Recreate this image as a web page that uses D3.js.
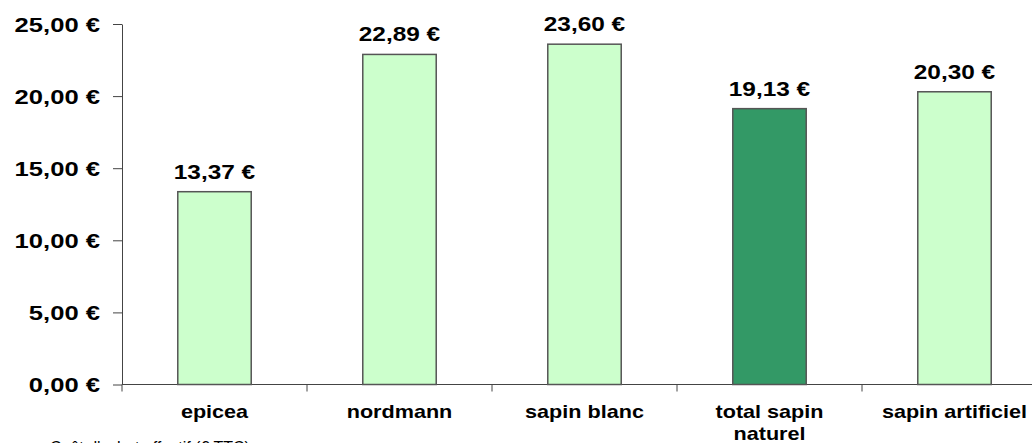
<!DOCTYPE html>
<html>
<head>
<meta charset="utf-8">
<script src="https://cdn.jsdelivr.net/npm/d3@7"></script>
<style>
  body { margin: 0; background: #fff; }
  svg { display: block; font-family: "Liberation Sans", Arial, sans-serif; }
</style>
</head>
<body>
<figure id="chart" style="margin:0"></figure>
<script>
const categories = ['epicea', 'nordmann', 'sapin blanc', 'total sapin naturel', 'sapin artificiel'];
const categoryLines = [['epicea'], ['nordmann'], ['sapin blanc'], ['total sapin', 'naturel'], ['sapin artificiel']];
const prices = [13.37, 22.89, 23.60, 19.13, 20.30];
const yTicks = [0, 5, 10, 15, 20, 25];
const highlighted = 'total sapin naturel';
const note = "Coût d'achat effectif (€ TTC)";

const width = 1032;
const height = 443;
const marginLeft = 122;
const plotTop = 24;
const plotBottom = 384.5;

const euro = d3.formatLocale({ decimal: ',', thousands: ' ', grouping: [3], currency: ['', ' €'] }).format('$.2f');

const svg = d3.select('figure#chart')
  .append('svg')
  .attr('width', width)
  .attr('height', height);

const x = d3.scaleBand()
  .domain(categories)
  .range([marginLeft, marginLeft + 925])
  .paddingInner(0.603)
  .paddingOuter(0.3015);

const y = d3.scaleLinear()
  .domain([0, 25])
  .range([plotBottom, plotTop]);

// y axis
const yAxis = svg.append('g')
  .attr('transform', 'translate(' + marginLeft + ',0)')
  .call(d3.axisLeft(y).tickValues(yTicks).tickSize(9).tickSizeOuter(0).tickFormat(euro));
yAxis.select('.domain').attr('stroke', '#444');
yAxis.selectAll('line').attr('stroke', '#444');
yAxis.selectAll('text')
  .attr('x', -22 / 1.28)
  .attr('dy', '0.35em')
  .attr('transform', 'scale(1.28,1)')
  .style('font-size', '20px')
  .style('font-weight', 'bold')
  .style('font-family', '"Liberation Sans", Arial, sans-serif')
  .attr('fill', '#000');

// x axis line + ticks at band boundaries
const xAxis = svg.append('g');
xAxis.append('line')
  .attr('x1', marginLeft).attr('x2', width)
  .attr('y1', y(0)).attr('y2', y(0))
  .attr('stroke', '#444');
xAxis.selectAll('.xtick')
  .data(d3.range(categories.length + 1))
  .enter()
  .append('line')
  .attr('x1', i => x.range()[0] + i * x.step())
  .attr('x2', i => x.range()[0] + i * x.step())
  .attr('y1', y(0))
  .attr('y2', y(0) + 7)
  .attr('stroke', '#444');

// bars
svg.selectAll('.bar')
  .data(categories)
  .enter()
  .append('rect')
  .attr('x', d => x(d))
  .attr('y', (d, i) => y(prices[i]))
  .attr('width', x.bandwidth())
  .attr('height', (d, i) => y(0) - y(prices[i]))
  .attr('fill', d => d === highlighted ? '#339966' : '#ccffcc')
  .attr('stroke', '#555')
  .attr('stroke-width', 1.5);

// value labels
svg.selectAll('.value')
  .data(categories)
  .enter()
  .append('text')
  .attr('transform', (d, i) => 'translate(' + (x(d) + x.bandwidth() / 2) + ',' + (y(prices[i]) - 13) + ') scale(1.22,1)')
  .attr('text-anchor', 'middle')
  .style('font-size', '20px')
  .style('font-weight', 'bold')
  .text((d, i) => euro(prices[i]));

// category labels
const cat = svg.selectAll('.cat')
  .data(categories)
  .enter()
  .append('text')
  .attr('transform', d => 'translate(' + (x(d) + x.bandwidth() / 2) + ',418) scale(1.2,1)')
  .attr('text-anchor', 'middle')
  .style('font-size', '18px')
  .style('font-weight', 'bold');
cat.each(function (d, i) {
  d3.select(this).selectAll('tspan')
    .data(categoryLines[i])
    .enter()
    .append('tspan')
    .attr('x', 0)
    .attr('dy', (t, j) => j === 0 ? 0 : 22)
    .text(t => t);
});

// note, mostly cut off at the bottom like in the original
svg.append('text')
  .attr('x', 50)
  .attr('y', 453)
  .style('font-size', '16px')
  .text(note);
</script>
</body>
</html>
